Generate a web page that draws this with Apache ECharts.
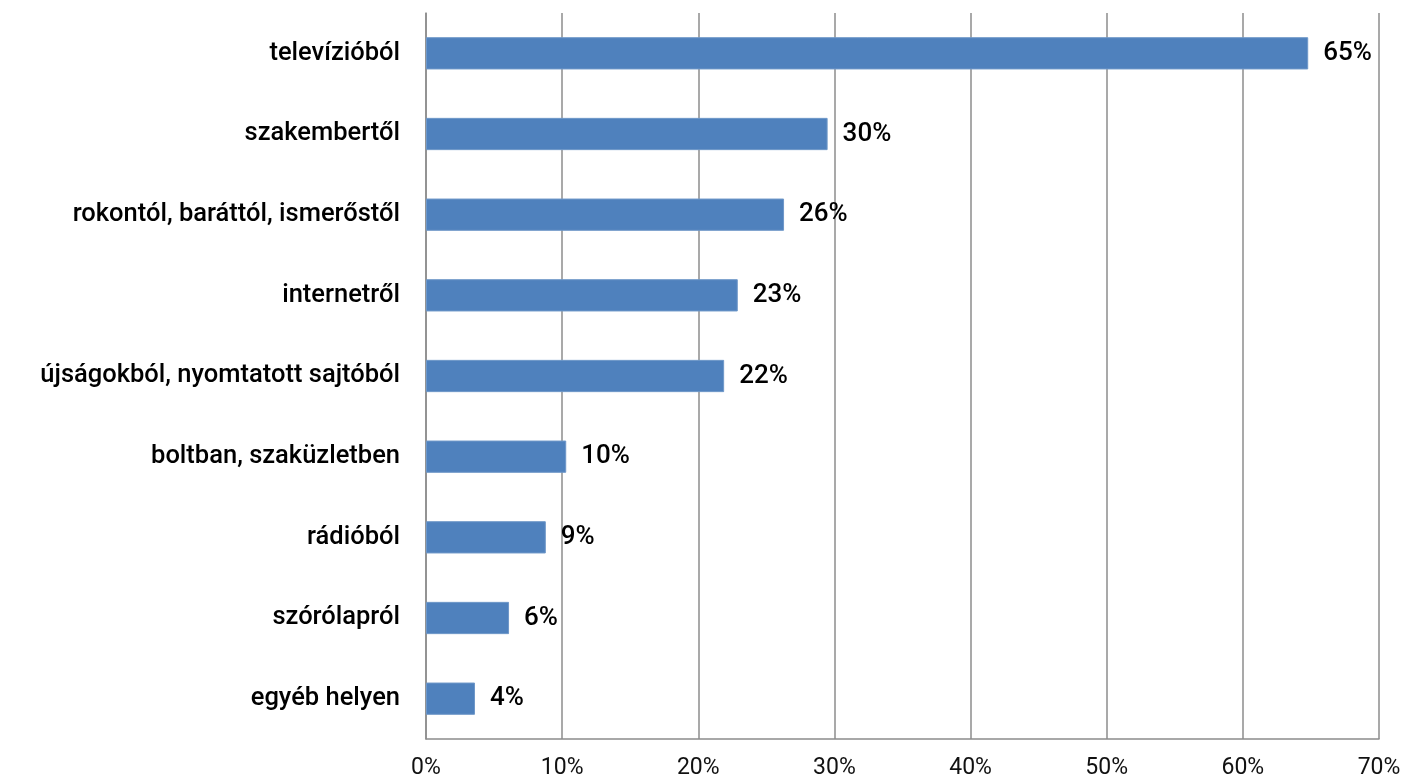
<!DOCTYPE html>
<html>
<head>
<meta charset="utf-8">
<script src="https://cdn.jsdelivr.net/npm/echarts@6/dist/echarts.min.js"></script>
<style>
  html, body { margin: 0; padding: 0; background: #fff; }
  #chart { width: 1405px; height: 780px; }
</style>
</head>
<body>
<div id="chart"></div>
<script>
// categories from top to bottom as shown
const categories = [
  'televízióból',
  'szakembertől',
  'rokontól, baráttól, ismerőstől',
  'internetről',
  'újságokból, nyomtatott sajtóból',
  'boltban, szaküzletben',
  'rádióból',
  'szórólapról',
  'egyéb helyen'
]
const values = [64.8, 29.5, 26.3, 22.9, 21.9, 10.3, 8.8, 6.1, 3.6]
const xTicks = [0, 10, 20, 30, 40, 50, 60, 70]

const font = 'Roboto, "Liberation Sans", Arial, sans-serif'
const chart = echarts.init(document.getElementById('chart'))

chart.setOption({
  animation: false,
  grid: { left: 426, right: 26, top: 13, bottom: 40 },
  xAxis: {
    type: 'value',
    min: xTicks[0],
    max: xTicks[xTicks.length - 1],
    interval: 10,
    axisLine: { show: true, lineStyle: { color: '#8c8c8c', width: 1.5 } },
    axisTick: { show: false },
    splitLine: { show: true, lineStyle: { color: '#8c8c8c', width: 1.5 } },
    axisLabel: {
      formatter: '{value}%',
      color: '#111',
      fontFamily: font,
      fontSize: 23,
      margin: 18
    }
  },
  yAxis: {
    type: 'category',
    data: categories.slice().reverse(),
    axisLine: { show: true, lineStyle: { color: '#8c8c8c', width: 1.5 } },
    axisTick: { show: false },
    axisLabel: {
      color: '#000',
      fontFamily: font,
      fontSize: 25.5,
      fontWeight: 500,
      margin: 26
    }
  },
  series: [{
    type: 'bar',
    data: values.slice().reverse(),
    barCategoryGap: '60%',
    itemStyle: { color: '#4F81BD', borderColor: '#6f98c9', borderWidth: 1 },
    label: {
      show: true,
      position: 'right',
      distance: 15,
      color: '#000',
      fontFamily: font,
      fontSize: 26,
      fontWeight: 500,
      formatter: p => Math.round(p.value) + '%'
    }
  }]
})
</script>
</body>
</html>
